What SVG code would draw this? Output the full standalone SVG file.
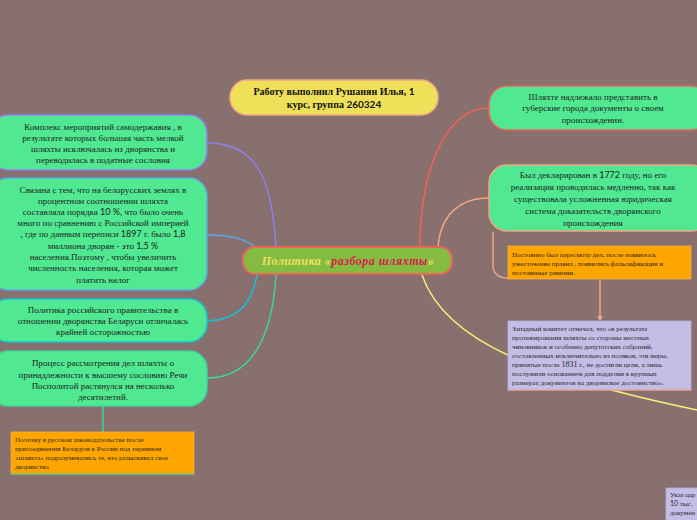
<svg xmlns="http://www.w3.org/2000/svg" width="697" height="520" viewBox="0 0 697 520">
<style>
.bg{fill:#87706e}
.g{fill:#50e891;stroke-width:1.5}
.t{font-family:"Liberation Serif",serif;font-size:9px;fill:#1e1e1e;text-anchor:middle}
.s{font-family:"Liberation Serif",serif;font-size:7px;fill:#2a2a2a}
.n{font-family:Lato,"Liberation Sans",sans-serif}
.c{fill:none;stroke-width:1.5}
</style>
<rect class="bg" x="0" y="0" width="697" height="520"/>
<g id="connectors">
<path class="c" stroke="#8f7ff0" d="M276,248 C272,175 255,143 207,143"/>
<path class="c" stroke="#5aa9e6" d="M207,235 C232,235 248,240 256,248"/>
<path class="c" stroke="#14c3d3" d="M257,275 C252,305 235,321 207,321"/>
<path class="c" stroke="#3ed3a0" d="M276,275 C272,340 250,378 207,378"/>
<path class="c" stroke="#f0625a" d="M420,248 C420,165 448,108 489,108"/>
<path class="c" stroke="#f4a582" d="M438,248 C440,215 460,198 489,198"/>
<path class="c" stroke="#f2ee7a" d="M422,275 C446,345 545,378 697,410"/>
<path class="c" stroke="#3ed3a0" stroke-width="1" d="M103,406 L103,432"/>
<path class="c" stroke="#f4a582" stroke-width="1" d="M493,232 L493,266 Q494,278 508,278"/>
<path class="c" stroke="#f4a582" stroke-width="1" d="M600,280 L600,318"/>
<path fill="#f4a582" d="M597,316 L603,316 L600,321 Z"/>
</g>
<g id="title">
<rect x="230" y="80" width="208" height="35" rx="17" fill="#efe05a" stroke="#f4a582" stroke-width="1.5"/>
<text font-family="Liberation Serif,serif" font-size="10" font-weight="bold" fill="#111" text-anchor="middle"><tspan x="334" y="95">Работу выполнил Рушанян Илья, <tspan class="n">1</tspan></tspan><tspan x="334" y="108">курс, группа <tspan class="n">260324</tspan></tspan></text>
</g>
<g id="center">
<rect x="243" y="247" width="209" height="27" rx="12" fill="#84bc42" stroke="#f0625a" stroke-width="2"/>
<text x="348" y="265" font-family="Liberation Serif,serif" font-size="12" font-weight="bold" font-style="italic" text-anchor="middle" letter-spacing="0.5" fill="#f1e05a">Политика «<tspan fill="#d81b4c">разбора шляхты</tspan>»</text>
</g>
<g id="l1">
<rect class="g" x="-10" y="115" width="217" height="55" rx="18" stroke="#8f7ff0"/>
<text class="t"><tspan x="103" y="130">Комплекс мероприятий самодержавия , в</tspan><tspan x="103" y="141">результате которых большая часть мелкой</tspan><tspan x="103" y="152">шляхты исключалась из дворянства и</tspan><tspan x="103" y="163">переводилась в податные сословия</tspan></text>
</g>
<g id="l2">
<rect class="g" x="-10" y="178" width="217" height="112" rx="18" stroke="#5aa9e6"/>
<text class="t"><tspan x="103" y="193">Связана с тем, что на белорусских землях в</tspan><tspan x="103" y="204">процентном соотношении шляхта</tspan><tspan x="103" y="215">составляла порядка <tspan class="n">10 %</tspan>, что было очень</tspan><tspan x="103" y="226">много по сравнению с Российской империей</tspan><tspan x="103" y="237">, где по данным переписи <tspan class="n">1897</tspan> г. было <tspan class="n">1,8</tspan></tspan><tspan x="103" y="249">миллиона дворян - это <tspan class="n">1,5 %</tspan></tspan><tspan x="103" y="260">населения.Поэтому , чтобы увеличить</tspan><tspan x="103" y="271">численность  населения, которая может</tspan><tspan x="103" y="283">платить налог</tspan></text>
</g>
<g id="l3">
<rect class="g" x="-10" y="299" width="217" height="43" rx="18" stroke="#14c3d3"/>
<text class="t"><tspan x="103" y="313">Политика российского правительства в</tspan><tspan x="103" y="324">отношении дворянства Беларуси отличалась</tspan><tspan x="103" y="335">крайней осторожностью</tspan></text>
</g>
<g id="l4">
<rect class="g" x="-10" y="351" width="217" height="55" rx="18" stroke="#3ed3a0"/>
<text class="t"><tspan x="103" y="366">Процесс рассмотрения дел шляхты о</tspan><tspan x="103" y="378">принадлежности к высшему сословию Речи</tspan><tspan x="103" y="389">Посполитой растянулся на несколько</tspan><tspan x="103" y="400">десятилетий.</tspan></text>
</g>
<g id="l5">
<rect x="11" y="432" width="183" height="42" fill="#ffa500" stroke="#f0b040" stroke-width="0.8"/>
<line x1="11" y1="474" x2="194" y2="474" stroke="#3ed3a0" stroke-width="1"/>
<text class="s"><tspan x="15" y="442">Поэтому в русском законодательстве после</tspan><tspan x="15" y="451">присоединения Беларуси к России под термином</tspan><tspan x="15" y="460">«шляхта» подразумевались те, кто разыскивал свое</tspan><tspan x="15" y="469">дворянство</tspan></text>
</g>
<g id="r1">
<rect class="g" x="489" y="86" width="220" height="44" rx="18" stroke="#f0625a"/>
<text class="t"><tspan x="593" y="100">Шляхте надлежало представить в</tspan><tspan x="593" y="111">губерские города документы о своем</tspan><tspan x="593" y="123">происхождении.</tspan></text>
</g>
<g id="r2">
<rect class="g" x="489" y="165" width="220" height="66" rx="18" stroke="#f4a582"/>
<text class="t"><tspan x="593" y="178">Был декларирован в <tspan class="n">1772</tspan> году, но его</tspan><tspan x="593" y="190">реализация проводилась медленно, так как</tspan><tspan x="593" y="202">существовала усложненная юридическая</tspan><tspan x="593" y="214">система доказательств дворянского</tspan><tspan x="593" y="226">происхождения</tspan></text>
</g>
<g id="r3">
<rect x="508" y="246" width="183" height="33" fill="#ffa500" stroke="#f0b040" stroke-width="0.8"/>
<text class="s"><tspan x="512" y="257">Постоянно был пересмотр дел, после появилось</tspan><tspan x="512" y="266">ужесточение правил , появились фальсификации и</tspan><tspan x="512" y="275">постоянные ревизии.</tspan></text>
</g>
<g id="r4">
<rect x="508" y="321" width="183" height="69" fill="#c4bde6" stroke="#b7aee0" stroke-width="0.8"/>
<line x1="508" y1="390" x2="691" y2="390" stroke="#f4a582" stroke-width="1.2"/>
<text class="s" font-size="6.6"><tspan x="512" y="331">Западный комитет отмечал, что «в результате</tspan><tspan x="512" y="340">протежирования шляхты со стороны местных</tspan><tspan x="512" y="349">чиновников и особенно депутатских собраний,</tspan><tspan x="512" y="358">составленных исключительно из поляков, эти меры,</tspan><tspan x="512" y="367">принятые после <tspan font-size="8">1831</tspan> г., не достигли цели, а лишь</tspan><tspan x="512" y="376">послужили основанием для подделки в крупных</tspan><tspan x="512" y="385">размерах документов на дворянское достоинство».</tspan></text>
</g>
<g id="r5">
<rect x="666" y="488" width="60" height="40" fill="#c4bde6" stroke="#b7aee0" stroke-width="0.8"/>
<text class="s"><tspan x="670" y="497">Указ цар</tspan><tspan x="670" y="506" class="n">10 <tspan font-family="Liberation Serif,serif">тыс.</tspan></tspan><tspan x="670" y="515">докумен</tspan></text>
</g>
</svg>
